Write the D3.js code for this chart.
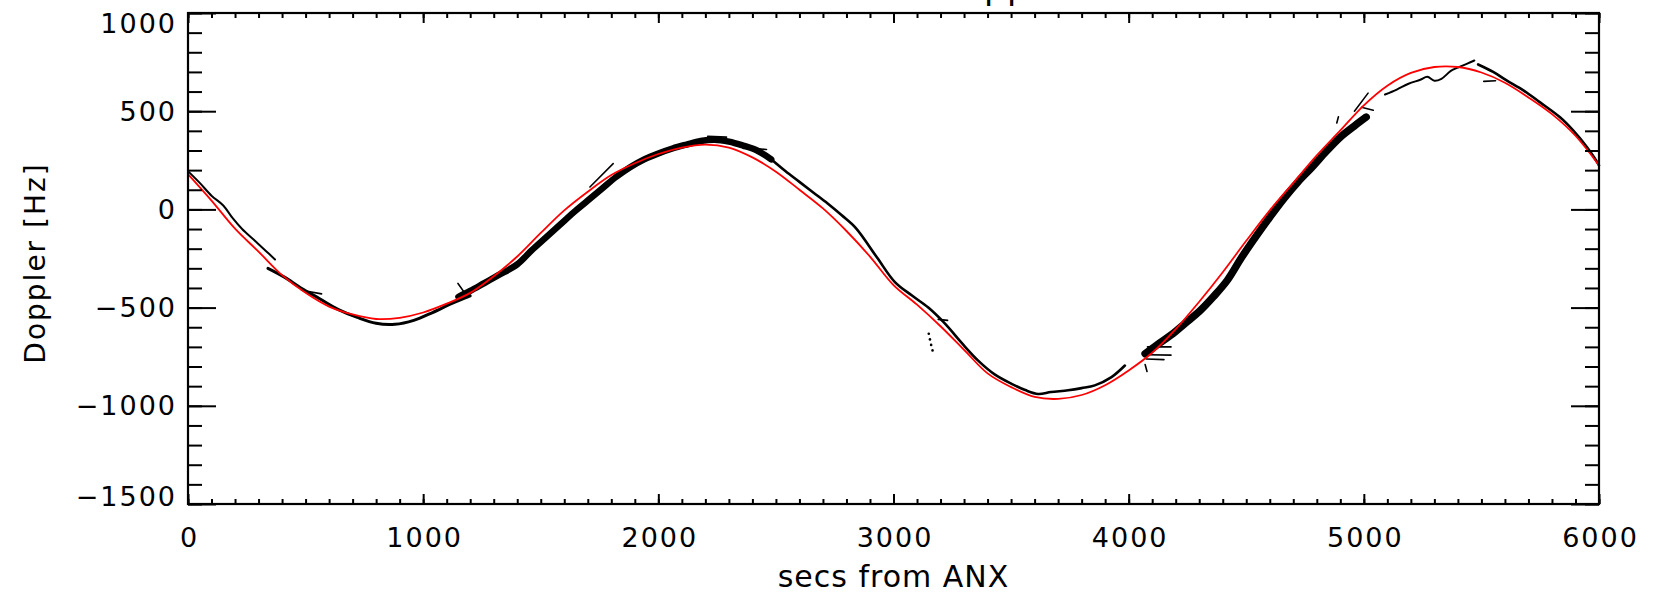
<!DOCTYPE html>
<html><head><meta charset="utf-8">
<script src="https://cdn.jsdelivr.net/npm/d3@7/dist/d3.min.js"></script>
<style>html,body{margin:0;padding:0;background:#fff;} svg{display:block;}</style>
</head><body>
<svg id="chart" width="1653" height="607"></svg>
<script>
// ---------------- data ----------------
const xTicks = [0, 1000, 2000, 3000, 4000, 5000, 6000];
const yTicks = [-1500, -1000, -500, 0, 500, 1000];
const xLabel = "secs from ANX";
const yLabel = "Doppler [Hz]";
const titleText = "Doppler";

// red model curve
const fitTime = [0,100,200,300,400,500,600,700,800,900,1000,1100,1200,1300,1400,1500,1600,1700,1800,1900,
  2000,2100,2200,2300,2400,2500,2600,2700,2800,2900,3000,3100,3200,3300,3400,3500,3600,3700,3800,3900,
  4000,4100,4200,4300,4400,4500,4600,4700,4800,4900,5000,5100,5200,5300,5400,5500,5600,5700,5800,5900,6000];
const fitDoppler = [180,45,-98,-215,-335,-425,-495,-535,-558,-552,-525,-480,-425,-340,-240,-120,-5,90,175,235,
  282,315,330,315,265,192,100,5,-110,-240,-385,-485,-595,-715,-835,-905,-955,-965,-945,-895,
  -820,-730,-610,-470,-320,-160,-5,135,275,402,530,630,695,725,725,697,645,570,485,375,224];

// black measured tracks [secs, Hz]
const trackA = [[0,195],[50,135],[100,70],[150,20],[190,-45],[230,-100],[280,-155],[330,-210],[370,-255]];
const trackA2 = [[340,-300],[410,-345],[480,-400],[560,-455],[640,-510],[720,-550],[800,-580],[880,-585],
  [960,-565],[1040,-525],[1120,-480],[1200,-440]];
const bandB = [[1150,-445],[1200,-415],[1260,-375],[1320,-335],[1400,-280],[1460,-210],[1520,-145],[1580,-80],
  [1640,-15],[1700,45],[1760,105],[1820,165],[1880,215],[1940,255],[2000,285],[2060,310],[2120,330],
  [2180,348],[2240,355],[2300,345],[2360,325],[2420,300],[2480,255]];
const trackC = [[2480,255],[2540,195],[2600,140],[2660,85],[2720,30],[2780,-30],[2840,-95],[2930,-245],
  [3006,-370],[3080,-440],[3148,-500],[3219,-582],[3290,-680],[3360,-770],[3430,-840],[3502,-888],
  [3560,-920],[3615,-940],[3670,-930],[3743,-921],[3800,-910],[3856,-896],[3927,-854],[3984,-795]];
const bandD = [[4070,-735],[4120,-690],[4180,-640],[4240,-580],[4300,-520],[4360,-445],[4420,-360],
  [4480,-245],[4540,-140],[4600,-40],[4660,55],[4720,140],[4780,215],[4840,295],[4900,368],[4960,425],[5010,470]];
const trackE = [[5090,585],[5140,610],[5190,640],[5240,660],[5270,675],[5300,655],[5330,665],[5370,705],
  [5400,722],[5440,742],[5470,758]];
const trackF = [[5486,738],[5550,700],[5607,657],[5680,605],[5748,546],[5833,470],[5890,402],[5950,315],[6000,224]];
const strays = [
  [[1709,114],[1808,233]],
  [[1148,-377],[1190,-448]],
  [[483,-412],[568,-430]],
  [[2210,372],[2290,368]],
  [[2380,312],[2460,305]],
  [[3190,-560],[3230,-565]],
  [[4080,-700],[4180,-700]],
  [[4080,-740],[4180,-742]],
  [[4075,-762],[4150,-765]],
  [[4070,-790],[4078,-825]],
  [[4960,500],[5018,592]],
  [[4990,520],[5040,505]],
  [[4885,440],[4892,472]],
  [[5510,652],[5560,655]]
];
const dots = [[3150,-633],[3155,-662],[3160,-690],[3166,-718]];

// ---------------- layout ----------------
const pL = 188, pR = 1599, pT = 13, pB = 504;
const FONT = "DejaVu Sans, Liberation Sans, sans-serif";

const svg = d3.select("#chart");
const x = d3.scaleLinear().domain([0, 6000]).range([pL, pR]);
const y = d3.scaleLinear().domain([-1500, 1000]).range([pB, pT]);

const line = d3.line().x(d => x(d[0])).y(d => y(d[1]));
const smooth = d3.line().x(d => x(d[0])).y(d => y(d[1])).curve(d3.curveCatmullRom.alpha(0.5));

// title (cut off at top edge, as in the reference)
svg.append("text")
  .attr("x", 934).attr("y", -1)
  .attr("font-family", FONT).attr("font-size", 34).attr("letter-spacing", 1.5)
  .attr("fill", "#000").text(titleText);

// black tracks
const gData = svg.append("g").attr("fill", "none").attr("stroke", "#000")
  .attr("stroke-linejoin", "round").attr("stroke-linecap", "round");
const trackStyles = [
  {data: trackA, w: 2}, {data: trackA2, w: 3}, {data: bandB, w: 6.5},
  {data: trackC, w: 2.6}, {data: bandD, w: 7.5}, {data: trackE, w: 2}, {data: trackF, w: 2.6}
];
trackStyles.forEach(s => gData.append("path").attr("d", smooth(s.data)).attr("stroke-width", s.w));
strays.forEach(s => gData.append("path").attr("d", line(s)).attr("stroke-width", 1.6));
svg.append("g").selectAll("circle").data(dots).join("circle")
  .attr("cx", d => x(d[0])).attr("cy", d => y(d[1])).attr("r", 1.3).attr("fill", "#000");

// red fit
const fitPts = fitTime.map((t, i) => [t, fitDoppler[i]]);
svg.append("path").attr("d", smooth(fitPts)).attr("fill", "none")
  .attr("stroke", "#ff0000").attr("stroke-width", 1.8);

// ---------------- axes ----------------
function styleAxis(g) {
  g.select(".domain").remove();
  g.selectAll("line").attr("stroke", "#000").attr("stroke-width", 2);
  g.selectAll("text").attr("font-family", FONT).attr("fill", "#000");
}
const xMinor = d3.range(0, 6001, 100);
const yMinor = d3.range(-1500, 1001, 100);

// bottom
svg.append("g").attr("transform", `translate(0,${pB})`)
  .call(d3.axisBottom(x).tickValues(xMinor).tickSizeInner(-5).tickSizeOuter(0).tickFormat(""))
  .call(styleAxis);
const bx = svg.append("g").attr("transform", `translate(0,${pB})`)
  .call(d3.axisBottom(x).tickValues(xTicks).tickSizeInner(-10).tickSizeOuter(0).tickPadding(24).tickFormat(d3.format("d")))
  .call(styleAxis);
bx.selectAll("text").attr("font-size", 27).attr("letter-spacing", 2).attr("dx", 1);

// top
svg.append("g").attr("transform", `translate(0,${pT})`)
  .call(d3.axisTop(x).tickValues(xMinor).tickSizeInner(-5).tickSizeOuter(0).tickFormat(""))
  .call(styleAxis);
svg.append("g").attr("transform", `translate(0,${pT})`)
  .call(d3.axisTop(x).tickValues(xTicks).tickSizeInner(-10).tickSizeOuter(0).tickFormat(""))
  .call(styleAxis);

// left
svg.append("g").attr("transform", `translate(${pL},0)`)
  .call(d3.axisLeft(y).tickValues(yMinor).tickSizeInner(-14).tickSizeOuter(0).tickFormat(""))
  .call(styleAxis);
const ly = svg.append("g").attr("transform", `translate(${pL},0)`)
  .call(d3.axisLeft(y).tickValues(yTicks).tickSizeInner(-28).tickSizeOuter(0).tickPadding(11)
    .tickFormat(d => d < 0 ? "\u2212" + Math.abs(d) : String(d)))
  .call(styleAxis);
ly.selectAll("text").attr("font-size", 27).attr("letter-spacing", 2)
  .attr("dy", d => d === 1000 ? "0.72em" : (d === -1500 ? "0.05em" : "0.34em"));

// right
svg.append("g").attr("transform", `translate(${pR},0)`)
  .call(d3.axisRight(y).tickValues(yMinor).tickSizeInner(-14).tickSizeOuter(0).tickFormat(""))
  .call(styleAxis);
svg.append("g").attr("transform", `translate(${pR},0)`)
  .call(d3.axisRight(y).tickValues(yTicks).tickSizeInner(-28).tickSizeOuter(0).tickFormat(""))
  .call(styleAxis);

// frame
svg.append("rect").attr("x", pL).attr("y", pT).attr("width", pR - pL).attr("height", pB - pT)
  .attr("fill", "none").attr("stroke", "#000").attr("stroke-width", 2.2);

// axis titles
svg.append("text").attr("x", (pL + pR) / 2).attr("y", 587)
  .attr("text-anchor", "middle").attr("font-family", FONT).attr("font-size", 30)
  .attr("letter-spacing", 1).attr("fill", "#000").text(xLabel);
svg.append("text").attr("transform", "translate(45,263) rotate(-90)")
  .attr("text-anchor", "middle").attr("font-family", FONT).attr("font-size", 28)
  .attr("letter-spacing", 2).attr("fill", "#000").text(yLabel);
</script>
</body></html>
